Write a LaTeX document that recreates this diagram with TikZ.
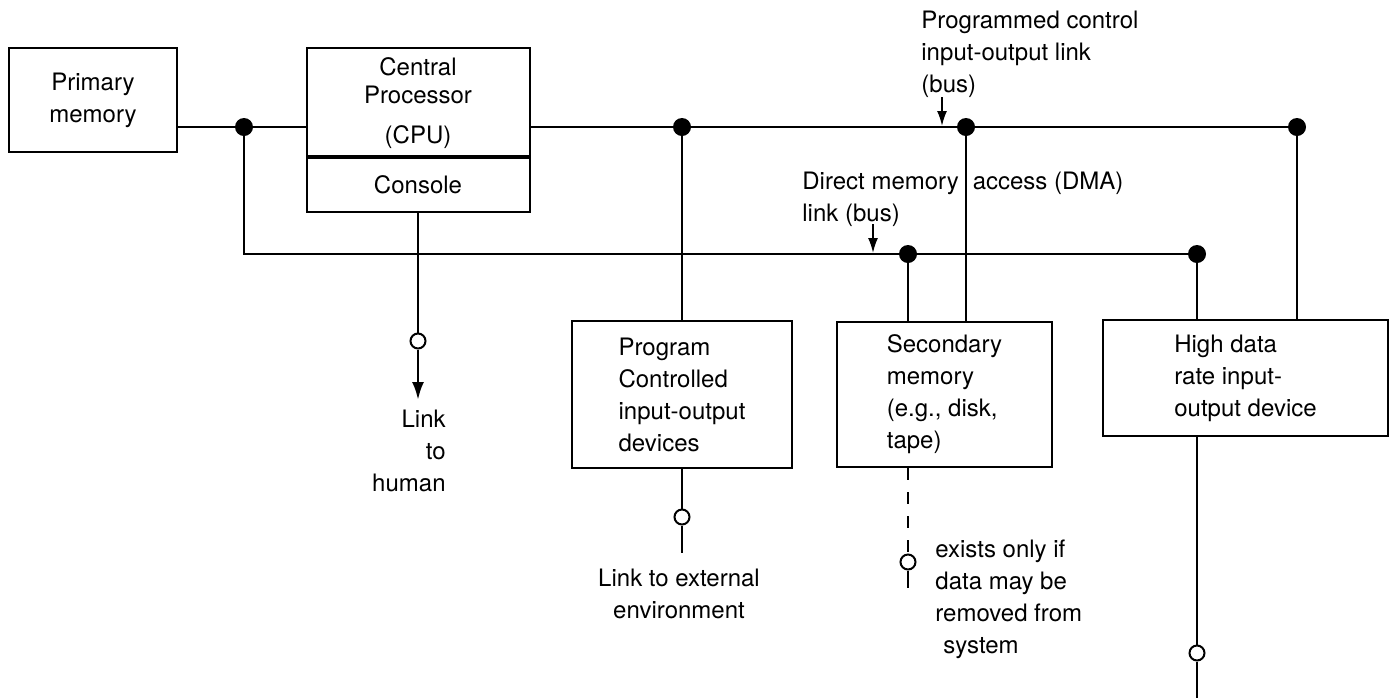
\documentclass[tikz,border=0pt]{standalone}
\usepackage{fontspec}
\setmainfont{TeX Gyre Heros}
\usetikzlibrary{arrows.meta}
\begin{document}
\begin{tikzpicture}[x=0.5pt,y=-0.5pt,
		font=\fontsize{12}{16}\selectfont,
		unit/.style={draw,line width=1pt,inner sep=0pt,align=left},
		lbl/.style={inner sep=0pt,align=left,anchor=west},
		wire/.style={line width=1.4pt},
		dot/.style={fill,circle,inner sep=0pt,minimum size=9pt},
		port/.style={draw,fill=white,circle,line width=1pt,inner sep=0pt,minimum size=7.5pt},
		tag/.style={-{Latex[length=7.5pt,width=5pt]},line width=0.9pt}]
	\useasboundingbox (0,0) rectangle (1391,698);
	
	\node[unit,align=center,minimum width=84pt,minimum height=52pt] (pmem) at (93,100) {Primary\\memory};
	\node[unit,align=center,minimum width=111.5pt,minimum height=54pt] (cpu) at (418,102) {\rule{0pt}{10pt}Central\\[-2pt]Processor\\[4pt](CPU)};
	\node[unit,align=center,minimum width=111.5pt,minimum height=27pt,anchor=north] (cons) at (cpu.south) {Console};
	\node[unit,minimum width=110pt,minimum height=73.5pt] (prog) at (682,394.5) {Program\\Controlled\\input-output\\devices};
	\node[unit,minimum width=107.5pt,minimum height=72.5pt] (sec) at (944.5,394.5) {Secondary\\memory\\(e.g., disk,\\tape)};
	\node[unit,minimum width=142.5pt,minimum height=58pt] (high) at (1245.5,378) {High data\\rate input-\\output device};
	
	\node[dot] (j1) at (244,127) {};
	\node[dot] (pb1) at (682,127) {};
	\node[dot] (pb2) at (966,127) {};
	\node[dot] (pb3) at (1297,127) {};
	\coordinate (d0) at (244,254);
	\node[dot] (d1) at (908,254) {};
	\node[dot] (d2) at (1197,254) {};
	
	\draw[wire] (pmem.east |- j1) -- (j1) -- (cpu.west |- j1);
	\draw[wire] (j1) -- (d0) -- (d1) -- (d2);
	\draw[wire] (cpu.east |- pb1) -- (pb1) -- (pb2) -- (pb3);
	\draw[wire] (pb1) -- (pb1 |- prog.north);
	\draw[wire] (d1) -- (d1 |- sec.north);
	\draw[wire] (pb2) -- (pb2 |- sec.north);
	\draw[wire] (d2) -- (d2 |- high.north);
	\draw[wire] (pb3) -- (pb3 |- high.north);
	
	\node[port] (hport) at (418,341) {};
	\coordinate (hend) at (418,400);
	\draw[wire] (cons.south) -- (hport);
	\draw[wire,-{Latex[length=9pt,width=6pt]}] (hport) -- (hend);
	
	\node[port] (eport) at (682,517) {};
	\coordinate (eend) at (682,553);
	\draw[wire] (prog.south) -- (eport) -- (eend);
	
	\node[port] (sport) at (908,562) {};
	\coordinate (send) at (908,588);
	\draw[wire,dash pattern=on 6pt off 6pt] (d1 |- sec.south) -- (sport);
	\draw[wire] (sport) -- (send);
	
	\node[port] (oport) at (1197,653) {};
	\coordinate (oend) at (1197,698);
	\draw[wire] (high.south -| d2) -- (oport) -- (oend);
	
	\node[lbl] (plbl) at (921,54) {Programmed control\\input-output link\\(bus)};
	\coordinate (pa1) at (942,97);
	\coordinate (pa2) at (942,126);
	\draw[tag] (pa1) -- (pa2);
	
	\node[lbl] (dlbl) at (802,199) {Direct memory\hspace{7pt}access (DMA)\\link (bus)};
	\coordinate (da1) at (873,224);
	\coordinate (da2) at (873,253);
	\draw[tag] (da1) -- (da2);
	
	\node[lbl,align=right,anchor=east] (hlbl) at (446,451) {Link\\to\\human};
	\node[lbl,align=center,anchor=center] (elbl) at (679,594) {Link to external\\environment};
	\node[lbl] (xlbl) at (935,599) {exists only if\\data may be\\removed from\\\hspace*{4pt}system};
\end{tikzpicture}
\end{document}
